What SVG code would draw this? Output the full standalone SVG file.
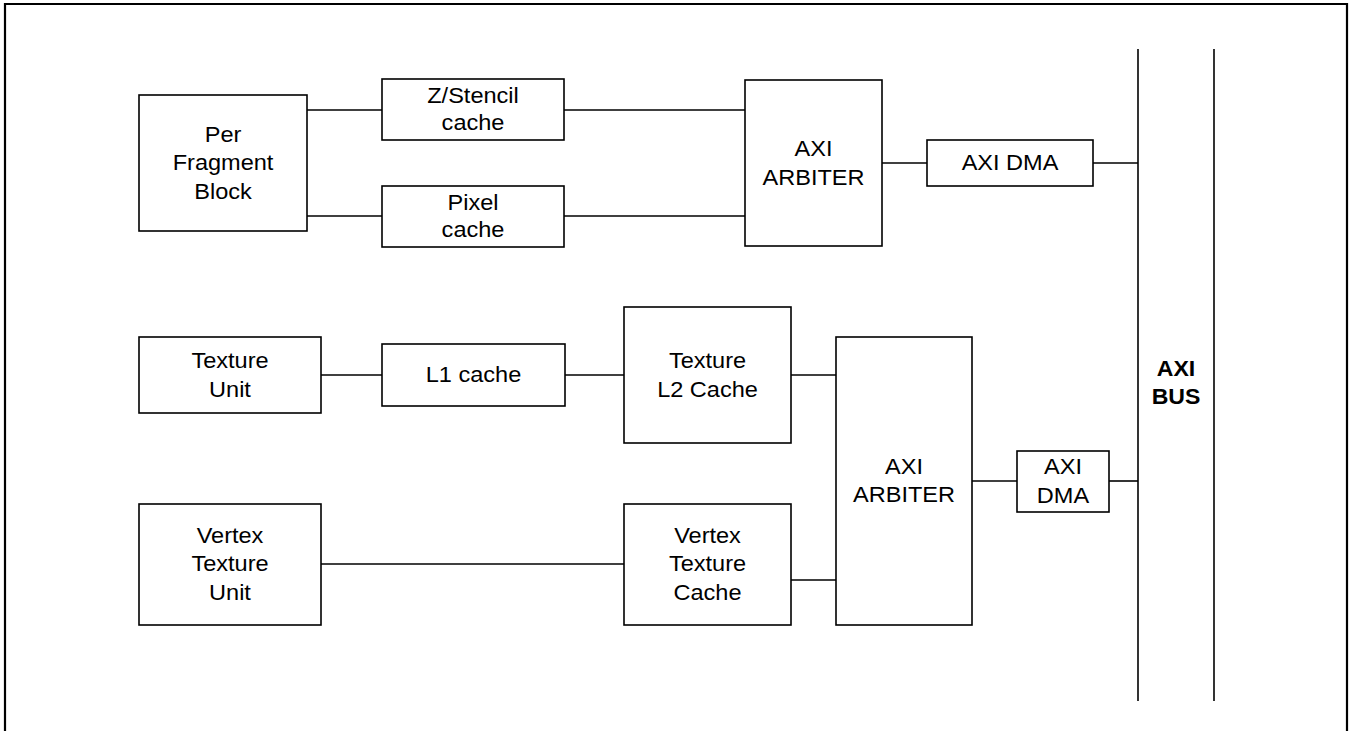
<svg xmlns="http://www.w3.org/2000/svg" width="1353" height="731" viewBox="0 0 1353 731">
<style>
.box{fill:#fff;stroke:#000;stroke-width:1.6}
.ln{stroke:#000;stroke-width:1.6;fill:none}
.t{font-family:"Liberation Sans",Arial,sans-serif;font-size:22px;fill:#000;text-anchor:middle}
.b{font-weight:bold}
</style>
<rect x="0" y="0" width="1353" height="731" fill="#fff"/>
<path d="M5,745 V4 H1347 V745" fill="none" stroke="#000" stroke-width="2.2"/>
<g id="connectors">
<line class="ln" x1="307" y1="110" x2="382" y2="110"/>
<line class="ln" x1="307" y1="216" x2="382" y2="216"/>
<line class="ln" x1="564" y1="110" x2="745" y2="110"/>
<line class="ln" x1="564" y1="216" x2="745" y2="216"/>
<line class="ln" x1="882" y1="163" x2="927" y2="163"/>
<line class="ln" x1="1093" y1="163" x2="1138" y2="163"/>
<line class="ln" x1="321" y1="375" x2="382" y2="375"/>
<line class="ln" x1="565" y1="375" x2="624" y2="375"/>
<line class="ln" x1="791" y1="375" x2="836" y2="375"/>
<line class="ln" x1="321" y1="564" x2="624" y2="564"/>
<line class="ln" x1="791" y1="580" x2="836" y2="580"/>
<line class="ln" x1="972" y1="481" x2="1017" y2="481"/>
<line class="ln" x1="1109" y1="481" x2="1138" y2="481"/>
</g>
<g id="axi-bus">
<line class="ln" x1="1138" y1="49" x2="1138" y2="701"/>
<line class="ln" x1="1214" y1="49" x2="1214" y2="701"/>
<text class="t b" transform="translate(1176 0) scale(1.05 1)"><tspan x="0" y="376">AXI</tspan><tspan x="0" y="404">BUS</tspan></text>
</g>
<g id="per-fragment-block">
<rect class="box" x="139" y="95" width="168" height="136"/>
<text class="t" transform="translate(223 0) scale(1.07 1)"><tspan x="0" y="142">Per</tspan><tspan x="0" y="170.5">Fragment</tspan><tspan x="0" y="199">Block</tspan></text>
</g>
<g id="zstencil-cache">
<rect class="box" x="382" y="79" width="182" height="61"/>
<text class="t" transform="translate(473 0) scale(1.07 1)"><tspan x="0" y="103">Z/Stencil</tspan><tspan x="0" y="130.5">cache</tspan></text>
</g>
<g id="pixel-cache">
<rect class="box" x="382" y="186" width="182" height="61"/>
<text class="t" transform="translate(473 0) scale(1.07 1)"><tspan x="0" y="210">Pixel</tspan><tspan x="0" y="237.5">cache</tspan></text>
</g>
<g id="axi-arbiter-1">
<rect class="box" x="745" y="80" width="137" height="166"/>
<text class="t" transform="translate(813.5 0) scale(1.07 1)"><tspan x="0" y="156.5">AXI</tspan><tspan x="0" y="185">ARBITER</tspan></text>
</g>
<g id="axi-dma-1">
<rect class="box" x="927" y="140" width="166" height="46"/>
<text class="t" transform="translate(1010 0) scale(1.07 1)"><tspan x="0" y="170.5">AXI DMA</tspan></text>
</g>
<g id="texture-unit">
<rect class="box" x="139" y="337" width="182" height="76"/>
<text class="t" transform="translate(230 0) scale(1.07 1)"><tspan x="0" y="368">Texture</tspan><tspan x="0" y="397">Unit</tspan></text>
</g>
<g id="l1-cache">
<rect class="box" x="382" y="344" width="183" height="62"/>
<text class="t" transform="translate(473.5 0) scale(1.07 1)"><tspan x="0" y="382.5">L1 cache</tspan></text>
</g>
<g id="texture-l2-cache">
<rect class="box" x="624" y="307" width="167" height="136"/>
<text class="t" transform="translate(707.5 0) scale(1.07 1)"><tspan x="0" y="368">Texture</tspan><tspan x="0" y="397">L2 Cache</tspan></text>
</g>
<g id="axi-arbiter-2">
<rect class="box" x="836" y="337" width="136" height="288"/>
<text class="t" transform="translate(904 0) scale(1.07 1)"><tspan x="0" y="474">AXI</tspan><tspan x="0" y="502.5">ARBITER</tspan></text>
</g>
<g id="axi-dma-2">
<rect class="box" x="1017" y="451" width="92" height="61"/>
<text class="t" transform="translate(1063 0) scale(1.07 1)"><tspan x="0" y="474">AXI</tspan><tspan x="0" y="503">DMA</tspan></text>
</g>
<g id="vertex-texture-unit">
<rect class="box" x="139" y="504" width="182" height="121"/>
<text class="t" transform="translate(230 0) scale(1.07 1)"><tspan x="0" y="543">Vertex</tspan><tspan x="0" y="571.5">Texture</tspan><tspan x="0" y="600">Unit</tspan></text>
</g>
<g id="vertex-texture-cache">
<rect class="box" x="624" y="504" width="167" height="121"/>
<text class="t" transform="translate(707.5 0) scale(1.07 1)"><tspan x="0" y="543">Vertex</tspan><tspan x="0" y="571.5">Texture</tspan><tspan x="0" y="600">Cache</tspan></text>
</g>
</svg>
